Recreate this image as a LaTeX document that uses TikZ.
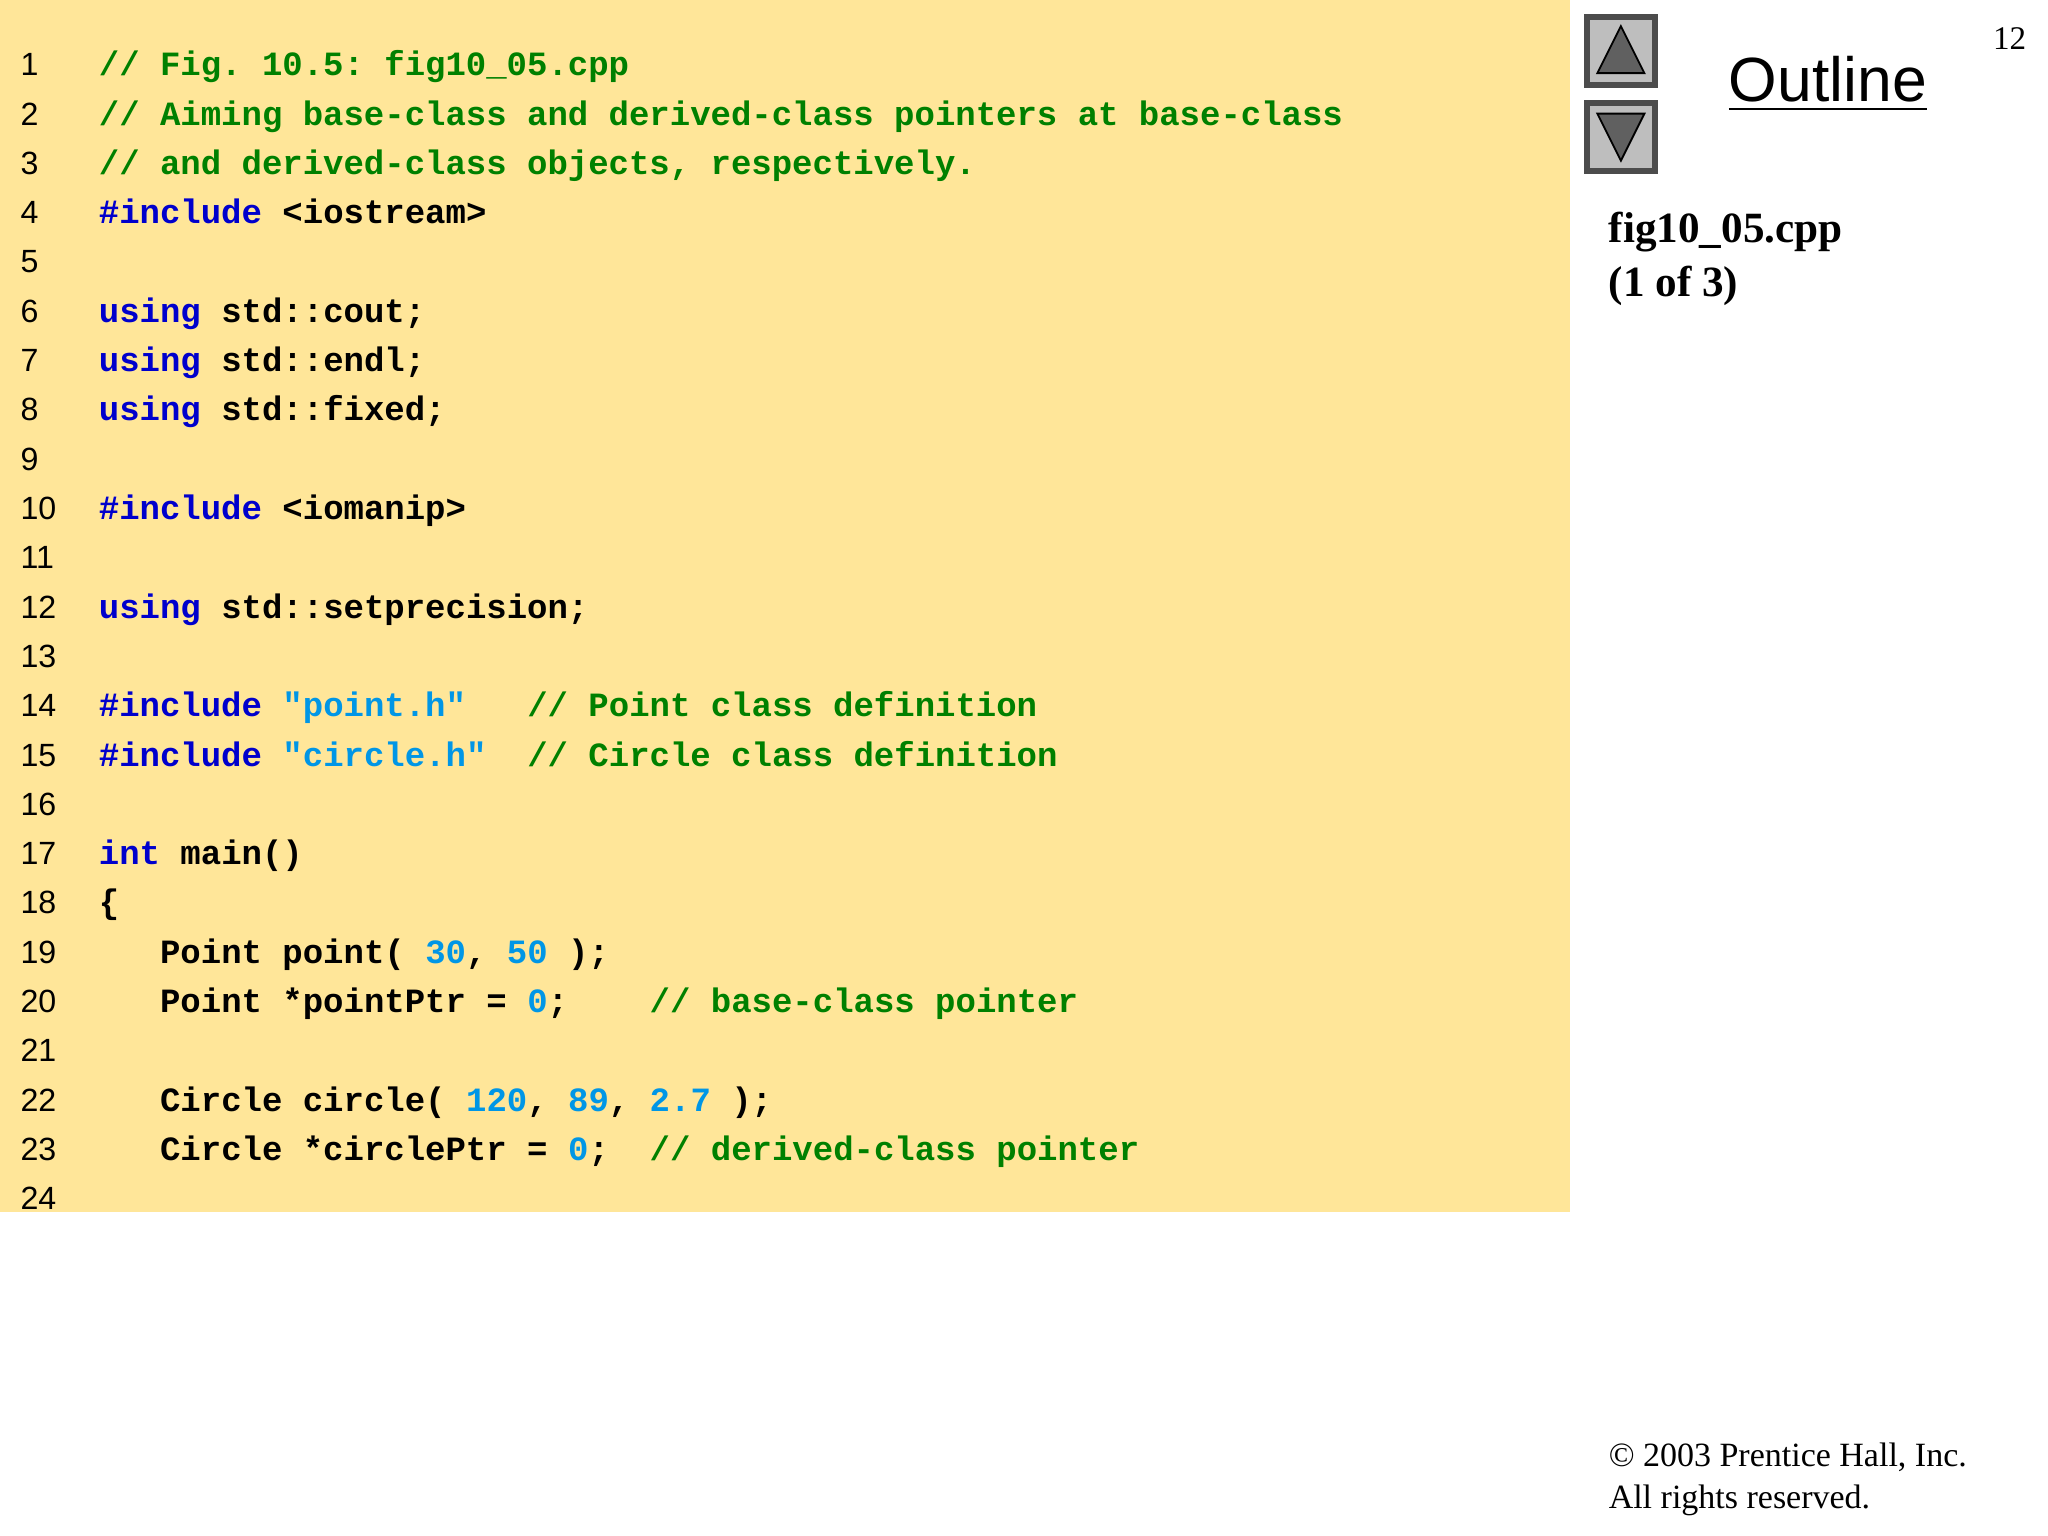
\documentclass[tikz,border=0pt]{standalone}
\usepackage{fontspec}
\setmainfont{Liberation Serif}
\setsansfont{Liberation Sans}
\setmonofont{Liberation Mono}
\definecolor{bgy}{RGB}{255,230,153}
\definecolor{cg}{RGB}{0,128,0}
\definecolor{kb}{RGB}{0,0,204}
\definecolor{lb}{RGB}{0,150,230}
\definecolor{btn}{RGB}{190,190,190}
\newcommand{\seg}[4]{\node[code,text=#3] (l#1c#2) at ({75+15.62*#2},{58+37.75*(#1-1)}) {#4};}
\begin{document}
\begin{tikzpicture}[x=0.01cm,y=-0.01cm,
  code/.style={anchor=base west,inner sep=0,font=\fontsize{7.4pt}{8pt}\ttfamily\bfseries},
  lnum/.style={anchor=base west,inner sep=0,font=\fontsize{7pt}{8pt}\sffamily},
  btnbox/.style={draw=black!70,fill=btn,line width=1.2pt}]
\useasboundingbox (0,0) rectangle (1568,1176);
\fill[bgy] (0,0) rectangle (1202,928);
\foreach \i in {1,...,24}{\node[lnum] (n\i) at (15,{58+37.75*(\i-1)}) {\i};}
\seg{1}{0}{cg}{// Fig. 10.5: fig10\_05.cpp}
\seg{2}{0}{cg}{// Aiming base-class and derived-class pointers at base-class}
\seg{3}{0}{cg}{// and derived-class objects, respectively.}
\seg{4}{0}{kb}{\#include}\seg{4}{9}{black}{<iostream>}
\seg{6}{0}{kb}{using}\seg{6}{6}{black}{std::cout;}
\seg{7}{0}{kb}{using}\seg{7}{6}{black}{std::endl;}
\seg{8}{0}{kb}{using}\seg{8}{6}{black}{std::fixed;}
\seg{10}{0}{kb}{\#include}\seg{10}{9}{black}{<iomanip>}
\seg{12}{0}{kb}{using}\seg{12}{6}{black}{std::setprecision;}
\seg{14}{0}{kb}{\#include}\seg{14}{9}{lb}{"point.h"}\seg{14}{21}{cg}{// Point class definition}
\seg{15}{0}{kb}{\#include}\seg{15}{9}{lb}{"circle.h"}\seg{15}{21}{cg}{// Circle class definition}
\seg{17}{0}{kb}{int}\seg{17}{4}{black}{main()}
\seg{18}{0}{black}{\{}
\seg{19}{3}{black}{Point point(}\seg{19}{16}{lb}{30}\seg{19}{18}{black}{,}\seg{19}{20}{lb}{50}\seg{19}{23}{black}{);}
\seg{20}{3}{black}{Point *pointPtr =}\seg{20}{21}{lb}{0}\seg{20}{22}{black}{;}\seg{20}{27}{cg}{// base-class pointer}
\seg{22}{3}{black}{Circle circle(}\seg{22}{18}{lb}{120}\seg{22}{21}{black}{,}\seg{22}{23}{lb}{89}\seg{22}{25}{black}{,}\seg{22}{27}{lb}{2.7}\seg{22}{31}{black}{);}
\seg{23}{3}{black}{Circle *circlePtr =}\seg{23}{23}{lb}{0}\seg{23}{24}{black}{;}\seg{23}{27}{cg}{// derived-class pointer}
% buttons
\node[btnbox,minimum width=0.52cm,minimum height=0.52cm,inner sep=0] (up) at (1241,39) {};
\node[btnbox,minimum width=0.52cm,minimum height=0.52cm,inner sep=0] (down) at (1241,105) {};
\draw[fill=gray!75!black,draw=black] (1241,20)--(1259,56)--(1223,56)--cycle;
\draw[fill=gray!75!black,draw=black] (1241,123)--(1259,87)--(1223,87)--cycle;
\node[anchor=base west,inner sep=0,font=\fontsize{13.6pt}{16pt}\sffamily] (outl) at (1323,78) {\underline{Outline}};
\node[anchor=base east,inner sep=0,font=\fontsize{7.2pt}{8pt}\selectfont] (pg) at (1552,38) {12};
\node[anchor=base west,inner sep=0,font=\fontsize{9.4pt}{10pt}\bfseries] (f1) at (1231,186) {fig10\_05.cpp};
\node[anchor=base west,inner sep=0,font=\fontsize{9.4pt}{10pt}\bfseries] (f2) at (1231,227) {(1 of 3)};
\node[anchor=base west,inner sep=0,font=\fontsize{7.4pt}{8pt}\selectfont] (c1) at (1231,1123) {© 2003 Prentice Hall, Inc.};
\node[anchor=base west,inner sep=0,font=\fontsize{7.4pt}{8pt}\selectfont] (c2) at (1231,1155) {All rights reserved.};
\end{tikzpicture}
\end{document}
